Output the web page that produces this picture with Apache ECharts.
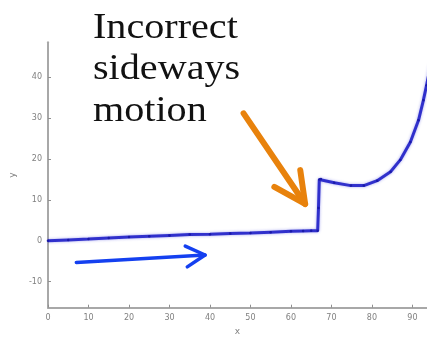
<!DOCTYPE html>
<html>
<head>
<meta charset="utf-8">
<script src="https://cdn.jsdelivr.net/npm/echarts@6/dist/echarts.min.js"></script>
<style>
  html, body { margin: 0; padding: 0; background: #fff; }
  #chart { width: 427px; height: 341px; }
</style>
</head>
<body>
<div id="chart"></div>
<script>
// Trajectory samples (x, y)
const trajX = [0, 5, 10, 15, 20, 25, 30, 35, 40, 45, 50, 55, 60, 63, 65, 66.6, 66.8, 67.0, 67.4, 70.7, 74.8, 78.0, 81.3, 84.6, 87.0, 89.5, 91.5, 92.7, 93.5, 94.5];
const trajY = [0, 0.2, 0.4, 0.7, 0.9, 1.1, 1.3, 1.5, 1.6, 1.8, 1.9, 2.1, 2.3, 2.4, 2.45, 2.45, 8.0, 15.0, 15.1, 14.2, 13.5, 13.5, 14.7, 16.9, 19.8, 24.2, 29.5, 34.4, 38.1, 43.0];

// Tick labels
const xTicks = [0, 10, 20, 30, 40, 50, 60, 70, 80, 90];
const yTicks = [-10, 0, 10, 20, 30, 40];

// Caption lines
const captionLines = ['Incorrect', 'sideways', 'motion'];

// Annotation arrows in data units: tail, tip, and the two barb ends
const orangeArrow = { tail: [48.3, 31.2], tip: [63.5, 9.0], barbs: [[55.9, 13.2], [62.3, 17.3]] };
const blueArrow = { tail: [7.0, -5.3], tip: [38.8, -3.5], barbs: [[33.9, -1.3], [34.4, -6.4]] };

const chart = echarts.init(document.getElementById('chart'), null, { renderer: 'canvas' });

const axisCommon = {
  axisLine: { show: true, onZero: false, lineStyle: { color: '#a8a8a8', width: 2 } },
  axisTick: { show: true, inside: true, length: 3, lineStyle: { color: '#909090', width: 1 } },
  axisLabel: { color: '#808080', fontSize: 8, fontFamily: 'DejaVu Sans' },
  splitLine: { show: false },
  nameTextStyle: { color: '#808080', fontSize: 9, fontFamily: 'DejaVu Sans' }
};

chart.setOption({
  animation: false,
  backgroundColor: '#ffffff',
  grid: { left: 44.5, right: 0, top: 42.3, bottom: 33.3, containLabel: false },
  xAxis: Object.assign({}, axisCommon, {
    type: 'value', min: 0, max: 93.6,
    name: 'x', nameLocation: 'middle', nameGap: 19,
    axisTick: Object.assign({}, axisCommon.axisTick, { customValues: xTicks }),
    axisLabel: Object.assign({}, axisCommon.axisLabel, { customValues: xTicks, margin: 6 })
  }),
  yAxis: Object.assign({}, axisCommon, {
    type: 'value', min: -16.4, max: 48.6,
    name: 'y', nameLocation: 'middle', nameGap: 31,
    axisTick: Object.assign({}, axisCommon.axisTick, { customValues: yTicks }),
    axisLabel: Object.assign({}, axisCommon.axisLabel, { customValues: yTicks, margin: 6 })
  }),
  series: [{
    type: 'line',
    data: trajX.map((x, i) => [x, trajY[i]]),
    clip: true,
    symbol: 'circle',
    symbolSize: 2.5,
    showSymbol: true,
    itemStyle: { color: '#1a1aa8' },
    lineStyle: { color: 'rgba(36,36,200,0.92)', width: 3, shadowBlur: 3, shadowColor: 'rgba(40,40,220,0.45)' }
  }]
});

// Annotation overlay: caption text and arrows, placed via the chart's own coordinate mapping
function px(p) { return chart.convertToPixel({ gridIndex: 0 }, p); }
function arrowShapes(a, color, width) {
  const tail = px(a.tail), tip = px(a.tip);
  const b1 = px(a.barbs[0]), b2 = px(a.barbs[1]);
  const style = { stroke: color, lineWidth: width, lineCap: 'round', lineJoin: 'round', fill: null };
  return [
    { type: 'polyline', shape: { points: [tail, tip] }, style: style, z: 100 },
    { type: 'polyline', shape: { points: [b1, tip, b2] }, style: style, z: 100 }
  ];
}

// top edge of each caption line
const lineTops = [11, 52, 94];
const textEls = captionLines.map((t, i) => ({
  type: 'text',
  x: 93, y: lineTops[i],
  scaleX: 1.115,
  style: {
    text: t,
    fill: '#111111',
    font: '36px "Liberation Serif"',
    verticalAlign: 'top'
  },
  z: 100
}));

chart.setOption({
  graphic: [].concat(
    textEls,
    arrowShapes(orangeArrow, '#e8820c', 6),
    arrowShapes(blueArrow, '#1440f0', 3.5)
  )
});
</script>
</body>
</html>
